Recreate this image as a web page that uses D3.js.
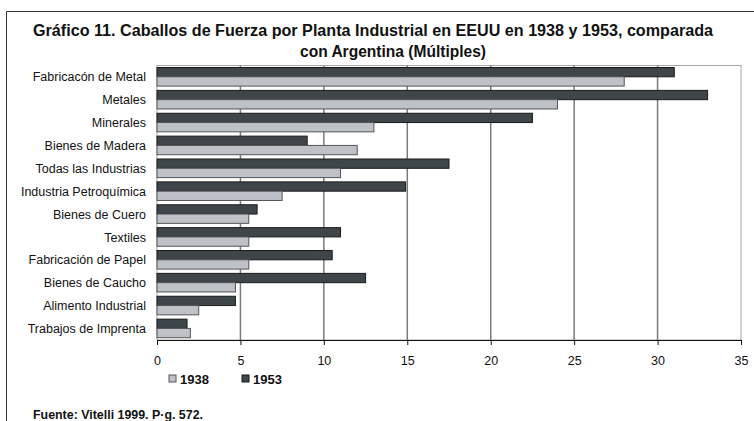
<!DOCTYPE html>
<html>
<head>
<meta charset="utf-8">
<script src="https://cdn.jsdelivr.net/npm/d3@7"></script>
<style>
  body { margin: 0; background: #fff; }
  text { font-family: "Liberation Sans", Arial, sans-serif; fill: #111; }
</style>
</head>
<body>
<svg width="754" height="421"></svg>
<script>
const categories = ["Fabricacón de Metal", "Metales", "Minerales", "Bienes de Madera",
  "Todas las Industrias", "Industria Petroquímica", "Bienes de Cuero", "Textiles",
  "Fabricación de Papel", "Bienes de Caucho", "Alimento Industrial", "Trabajos de Imprenta"];
const values1953 = [31, 33, 22.5, 9, 17.5, 14.9, 6, 11, 10.5, 12.5, 4.7, 1.8];
const values1938 = [28, 24, 13, 12, 11, 7.5, 5.5, 5.5, 5.5, 4.7, 2.5, 2];
const ticks = [0, 5, 10, 15, 20, 25, 30, 35];

const svg = d3.select("svg");

// frame (left and top edges only visible)
svg.append("path")
    .attr("d", "M6.5,421 V11.5 H754")
    .attr("fill", "none")
    .attr("stroke", "#333")
    .attr("stroke-width", 1);

// title
const title = svg.append("g").attr("font-weight", "bold").attr("font-size", 16);
title.append("text").attr("x", 373).attr("y", 36).attr("text-anchor", "middle")
    .attr("textLength", 680).attr("lengthAdjust", "spacingAndGlyphs")
    .text("Gráfico 11. Caballos de Fuerza por Planta Industrial en EEUU en 1938 y 1953, comparada");
title.append("text").attr("x", 393).attr("y", 57).attr("text-anchor", "middle")
    .attr("textLength", 186).attr("lengthAdjust", "spacingAndGlyphs")
    .text("con Argentina (Múltiples)");

const x = d3.scaleLinear().domain([0, 35]).range([157, 741]);
const y = d3.scaleBand().domain(categories).range([65.5, 340]);
const barH = 9.3;

// plot border
svg.append("rect")
    .attr("x", x(0)).attr("y", y.range()[0])
    .attr("width", x(35) - x(0)).attr("height", y.range()[1] - y.range()[0])
    .attr("fill", "none").attr("stroke", "#a8a8a8").attr("stroke-width", 1);

// gridlines
svg.append("g").selectAll("line")
    .data(ticks.slice(1, -1))
    .join("line")
    .attr("x1", d => x(d)).attr("x2", d => x(d))
    .attr("y1", y.range()[0]).attr("y2", y.range()[1])
    .attr("stroke", "#7a7a7a").attr("stroke-width", 1.5);

const rows = categories.map((c, i) => ({ c, v53: values1953[i], v38: values1938[i] }));

// bars
const bars = svg.append("g");
bars.selectAll("rect.b53")
    .data(rows)
    .join("rect")
    .attr("class", "b53")
    .attr("x", x(0))
    .attr("y", d => y(d.c) + 2)
    .attr("width", d => x(d.v53) - x(0))
    .attr("height", barH)
    .attr("fill", "#3f4649")
    .attr("stroke", "#1a1a1a").attr("stroke-width", 1);
bars.selectAll("rect.b38")
    .data(rows)
    .join("rect")
    .attr("class", "b38")
    .attr("x", x(0))
    .attr("y", d => y(d.c) + 2 + barH)
    .attr("width", d => x(d.v38) - x(0))
    .attr("height", barH)
    .attr("fill", "#bec2c8")
    .attr("stroke", "#555").attr("stroke-width", 1);

// category labels
svg.append("g").selectAll("text")
    .data(categories)
    .join("text")
    .attr("x", 146)
    .attr("y", d => y(d) + y.bandwidth() / 2 + 4.5)
    .attr("text-anchor", "end")
    .attr("font-size", 12.5)
    .text(d => d);

// x axis
const xAxis = svg.append("g")
    .attr("transform", `translate(0,${y.range()[1]})`)
    .call(d3.axisBottom(x).tickValues(ticks).tickSize(5).tickPadding(11).tickFormat(d3.format("d")));
xAxis.select(".domain").attr("stroke", "#111");
xAxis.selectAll(".tick line").attr("stroke", "#111");
xAxis.selectAll(".tick text").attr("font-size", 12.5).attr("font-family", "Liberation Sans, Arial, sans-serif").attr("fill", "#111");

// legend
const legendItems = [
  { label: "1938", fill: "#bec2c8", stroke: "#555", x: 169 },
  { label: "1953", fill: "#3f4649", stroke: "#1a1a1a", x: 242 }
];
const lg = svg.append("g").selectAll("g")
    .data(legendItems)
    .join("g")
    .attr("transform", d => `translate(${d.x},375)`);
lg.append("rect").attr("width", 7).attr("height", 7)
    .attr("fill", d => d.fill).attr("stroke", d => d.stroke);
lg.append("text").attr("x", 11).attr("y", 8.5)
    .attr("font-size", 13).attr("font-weight", "bold")
    .text(d => d.label);

// source
svg.append("text")
    .attr("x", 33).attr("y", 419)
    .attr("font-size", 12).attr("font-weight", "bold")
    .attr("textLength", 170).attr("lengthAdjust", "spacingAndGlyphs")
    .text("Fuente: Vitelli 1999. P·g. 572.");
</script>
</body>
</html>
